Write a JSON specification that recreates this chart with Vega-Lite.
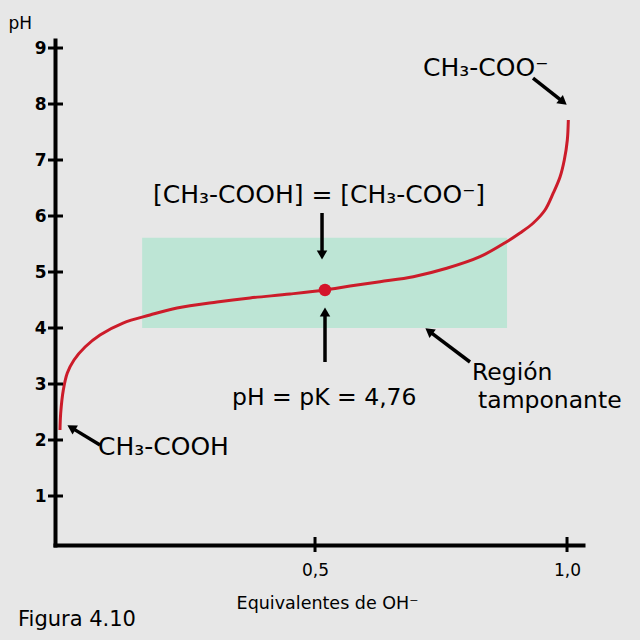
{
  "$schema": "https://vega.github.io/schema/vega-lite/v6.json",
  "width": 528,
  "height": 505,
  "autosize": {"type": "none"},
  "padding": {"left": 55, "top": 40, "right": 57, "bottom": 95},
  "background": "#e7e7e7",
  "config": {"view": {"stroke": null}, "font": "DejaVu Sans"},
  "datasets": {
    "curve": [
      {"eq": -0.006, "pH": 2.179},
      {"eq": -0.0046, "pH": 2.482},
      {"eq": 0.0006, "pH": 2.893},
      {"eq": 0.0085, "pH": 3.196},
      {"eq": 0.0218, "pH": 3.429},
      {"eq": 0.0437, "pH": 3.661},
      {"eq": 0.0734, "pH": 3.875},
      {"eq": 0.119, "pH": 4.089},
      {"eq": 0.1726, "pH": 4.232},
      {"eq": 0.2262, "pH": 4.357},
      {"eq": 0.3056, "pH": 4.464},
      {"eq": 0.371, "pH": 4.536},
      {"eq": 0.4504, "pH": 4.607},
      {"eq": 0.5198, "pH": 4.679},
      {"eq": 0.5694, "pH": 4.75},
      {"eq": 0.629, "pH": 4.827},
      {"eq": 0.695, "pH": 4.916},
      {"eq": 0.7613, "pH": 5.066},
      {"eq": 0.8274, "pH": 5.273},
      {"eq": 0.8804, "pH": 5.541},
      {"eq": 0.9067, "pH": 5.696},
      {"eq": 0.9331, "pH": 5.875},
      {"eq": 0.9563, "pH": 6.107},
      {"eq": 0.9728, "pH": 6.411},
      {"eq": 0.9861, "pH": 6.696},
      {"eq": 0.9946, "pH": 7.0},
      {"eq": 1.0006, "pH": 7.357},
      {"eq": 1.0026, "pH": 7.714}
    ],
    "region": [{"x1": 0.157, "x2": 0.881, "y1": 4.0, "y2": 5.61}],
    "pk": [{"eq": 0.5198, "pH": 4.679}],
    "arrows": [
      {"x1": 0.9325, "y1": 8.464, "xt": 0.9923, "yt": 8.037, "ang": 128.5},
      {"x1": 0.5139, "y1": 6.054, "xt": 0.5139, "yt": 5.304, "ang": 180},
      {"x1": 0.5198, "y1": 3.393, "xt": 0.5198, "yt": 4.286, "ang": 0},
      {"x1": 0.8075, "y1": 3.393, "xt": 0.7262, "yt": 3.946, "ang": 307},
      {"x1": 0.0734, "y1": 1.911, "xt": 0.0165, "yt": 2.221, "ang": 301}
    ],
    "yticks": [{"v": 1}, {"v": 2}, {"v": 3}, {"v": 4}, {"v": 5}, {"v": 6}, {"v": 7}, {"v": 8}, {"v": 9}],
    "xticks": [{"v": 0.5}, {"v": 1.0}],
    "bigLabels": [
      {"x": 0.7143, "y": 8.5, "t": "CH₃-COO⁻"},
      {"x": 0.1786, "y": 6.232, "t": "[CH₃-COOH] = [CH₃-COO⁻]"},
      {"x": 0.0694, "y": 1.732, "t": "CH₃-COOH"}
    ],
    "midLabels": [
      {"x": 0.3353, "y": 2.625, "t": "pH = pK = 4,76"},
      {"x": 0.8115, "y": 3.071, "t": "Región"},
      {"x": 0.8234, "y": 2.571, "t": "tamponante"}
    ],
    "caption": [{"x": -0.0893, "y": -1.321, "t": "Figura 4.10"}]
  },
  "encoding": {
    "x": {
      "type": "quantitative",
      "scale": {"domain": [-0.0159, 1.0317], "nice": false, "zero": false},
      "axis": {
        "values": [0.5, 1.0],
        "labelExpr": "replace(format(datum.value, '.1f'), '.', ',')",
        "grid": false, "ticks": false, "tickSize": 0,
        "domainColor": "black", "domainWidth": 4, "domainCap": "square",
        "labelFontSize": 17, "labelColor": "black", "labelPadding": 17,
        "title": "Equivalentes de OH⁻",
        "titleFontSize": 17.5, "titleFontWeight": "normal", "titleColor": "black",
        "titleX": 272, "titleY": 63, "titleAlign": "center", "titleBaseline": "alphabetic"
      }
    },
    "y": {
      "type": "quantitative",
      "scale": {"domain": [0.125, 9.143], "nice": false, "zero": false},
      "axis": {
        "values": [1, 2, 3, 4, 5, 6, 7, 8, 9],
        "grid": false, "ticks": false, "tickSize": 0,
        "domainColor": "black", "domainWidth": 4, "domainCap": "square",
        "labelFontSize": 17, "labelFontWeight": "bold", "labelColor": "black", "labelPadding": 9,
        "title": "pH", "titleAngle": 0,
        "titleFontSize": 17, "titleFontWeight": "normal", "titleColor": "black",
        "titleX": -47, "titleY": -12, "titleAlign": "left", "titleBaseline": "alphabetic"
      }
    }
  },
  "layer": [
    {
      "data": {"name": "region"},
      "mark": {"type": "rect", "color": "#bde5d5"},
      "encoding": {
        "x": {"field": "x1"},
        "x2": {"field": "x2"},
        "y": {"field": "y1"},
        "y2": {"field": "y2"}
      }
    },
    {
      "data": {"name": "curve"},
      "mark": {"type": "line", "color": "#cc1c2a", "strokeWidth": 3, "interpolate": "catmull-rom"},
      "encoding": {
        "x": {"field": "eq"},
        "y": {"field": "pH"}
      }
    },
    {
      "data": {"name": "yticks"},
      "mark": {"type": "tick", "orient": "horizontal", "color": "black", "size": 15, "thickness": 3, "opacity": 1},
      "encoding": {
        "x": {"datum": -0.0149},
        "y": {"field": "v"}
      }
    },
    {
      "data": {"name": "xticks"},
      "mark": {"type": "tick", "orient": "vertical", "color": "black", "size": 15, "thickness": 3, "opacity": 1},
      "encoding": {
        "x": {"field": "v"},
        "y": {"datum": 0.134}
      }
    },
    {
      "data": {"name": "arrows"},
      "mark": {"type": "rule", "color": "black", "strokeWidth": 3.5},
      "encoding": {
        "x": {"field": "x1"},
        "y": {"field": "y1"},
        "x2": {"field": "xt"},
        "y2": {"field": "yt"}
      }
    },
    {
      "data": {"name": "arrows"},
      "mark": {"type": "point", "shape": "triangle-up", "filled": true, "color": "black", "size": 110, "opacity": 1},
      "encoding": {
        "x": {"field": "xt"},
        "y": {"field": "yt"},
        "angle": {"field": "ang", "type": "quantitative", "scale": null}
      }
    },
    {
      "data": {"name": "pk"},
      "mark": {"type": "point", "shape": "circle", "filled": true, "color": "#d4142a", "size": 155, "opacity": 1},
      "encoding": {
        "x": {"field": "eq"},
        "y": {"field": "pH"}
      }
    },
    {
      "data": {"name": "bigLabels"},
      "mark": {"type": "text", "align": "left", "baseline": "alphabetic", "fontSize": 25, "color": "black"},
      "encoding": {
        "x": {"field": "x"},
        "y": {"field": "y"},
        "text": {"field": "t"}
      }
    },
    {
      "data": {"name": "midLabels"},
      "mark": {"type": "text", "align": "left", "baseline": "alphabetic", "fontSize": 23.5, "color": "black"},
      "encoding": {
        "x": {"field": "x"},
        "y": {"field": "y"},
        "text": {"field": "t"}
      }
    },
    {
      "data": {"name": "caption"},
      "mark": {"type": "text", "align": "left", "baseline": "alphabetic", "fontSize": 21, "color": "black"},
      "encoding": {
        "x": {"field": "x"},
        "y": {"field": "y"},
        "text": {"field": "t"}
      }
    }
  ]
}
